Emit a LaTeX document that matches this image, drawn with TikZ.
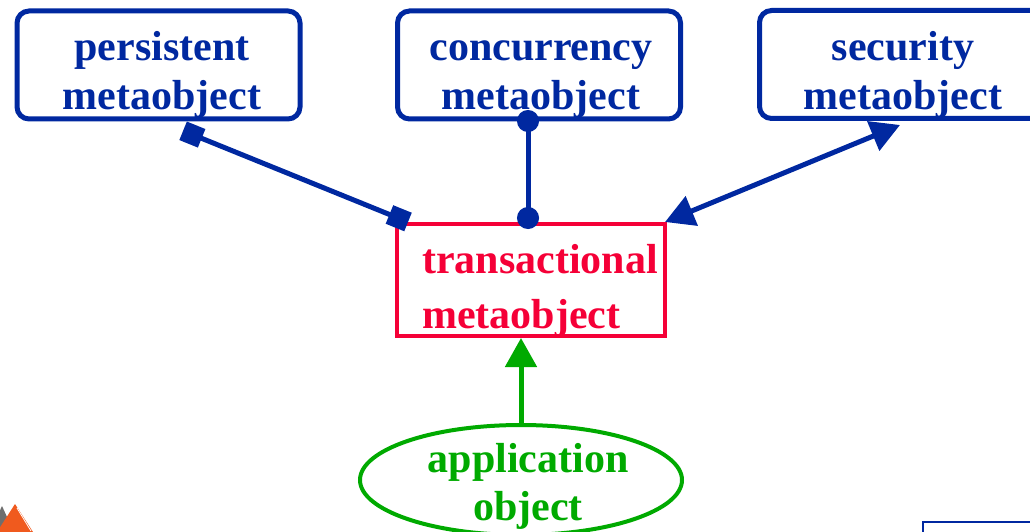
\documentclass[tikz,border=0pt]{standalone}
\usepackage{fontspec}
\setmainfont{Liberation Serif}
\usetikzlibrary{arrows.meta,shapes.geometric,calc}
\definecolor{mblue}{RGB}{0,40,160}
\definecolor{mred}{RGB}{245,0,55}
\definecolor{mgreen}{RGB}{0,170,0}
\definecolor{morange}{RGB}{240,90,30}
\definecolor{mgray}{RGB}{110,110,110}
\begin{document}
\begin{tikzpicture}[x=1pt,y=-1pt,
  bluebox/.style={draw=mblue, line width=5pt, rounded corners=12pt, minimum width=283pt, minimum height=108pt, inner sep=0pt},
  redbox/.style={draw=mred, line width=4pt, minimum width=268pt, minimum height=112pt, inner sep=0pt},
  greenell/.style={ellipse, draw=mgreen, line width=4pt, minimum width=322pt, minimum height=110pt, inner sep=0pt},
  btext/.style={text=mblue, font=\fontsize{42}{49}\selectfont\bfseries, align=center, inner sep=0pt},
  rtext/.style={text=mred, font=\fontsize{42}{55}\selectfont\bfseries, align=left, inner sep=0pt},
  gtext/.style={text=mgreen, font=\fontsize{42}{48}\selectfont\bfseries, align=center, inner sep=0pt},
  bconn/.style={draw=mblue, line width=5pt},
  gconn/.style={draw=mgreen, line width=5pt},
  sqtip/.tip={Square[length=20pt,width=20pt]},
  dottip/.tip={Circle[length=22pt]},
  tritip/.tip={Triangle[length=29pt,width=31pt]}
]
\useasboundingbox (0,0) rectangle (1030,532);
\clip (0,0) rectangle (1030,532);

% decorations at the bottom corners
\fill[mgray] (-10,532) -- (2,506) -- (14,532) -- cycle;
\fill[morange] (-3,532) -- (15,504) -- (33,532) -- cycle;
\draw[white, line width=0.8pt] (17,508) -- (31,531);
\draw[mblue, line width=2.5pt] (923,522) rectangle (1045,560);

% boxes
\node[bluebox] (pers) at (158.5,65) {};
\node[bluebox] (conc) at (539,65) {};
\node[bluebox] (secu) at (901,64.5) {};
\node[redbox] (trans) at (531,280) {};
\node[greenell] (app) at (521,480) {};

% texts (base anchor = baseline of the last line)
\node[btext, anchor=base] (persT) at (162,110) {persistent\\metaobject};
\node[btext, anchor=base] (concT) at (541,110) {concurrency\\metaobject};
\node[btext, anchor=base] (secuT) at (903,110) {security\\metaobject};
\node[rtext, anchor=base west] (transT) at (422,328) {transactional\\metaobject};
\node[gtext, anchor=base] (appT) at (528,520) {application\\object};

% connectors
\draw[bconn, sqtip-sqtip] ($(pers.south)+(24.6,9.3)$) -- ($(trans.north west)+(13,0)$);
\draw[bconn, dottip-dottip] ($(conc.south)+(-11,-11.5)$) -- ($(trans.north)+(-3,7)$);
\draw[bconn, tritip-tritip] ($(secu.south)+(-1,4)$) -- ($(trans.north east)+(-2,0)$);
\draw[gconn, -tritip] (app.north) -- (app.north |- trans.south);
\end{tikzpicture}
\end{document}
